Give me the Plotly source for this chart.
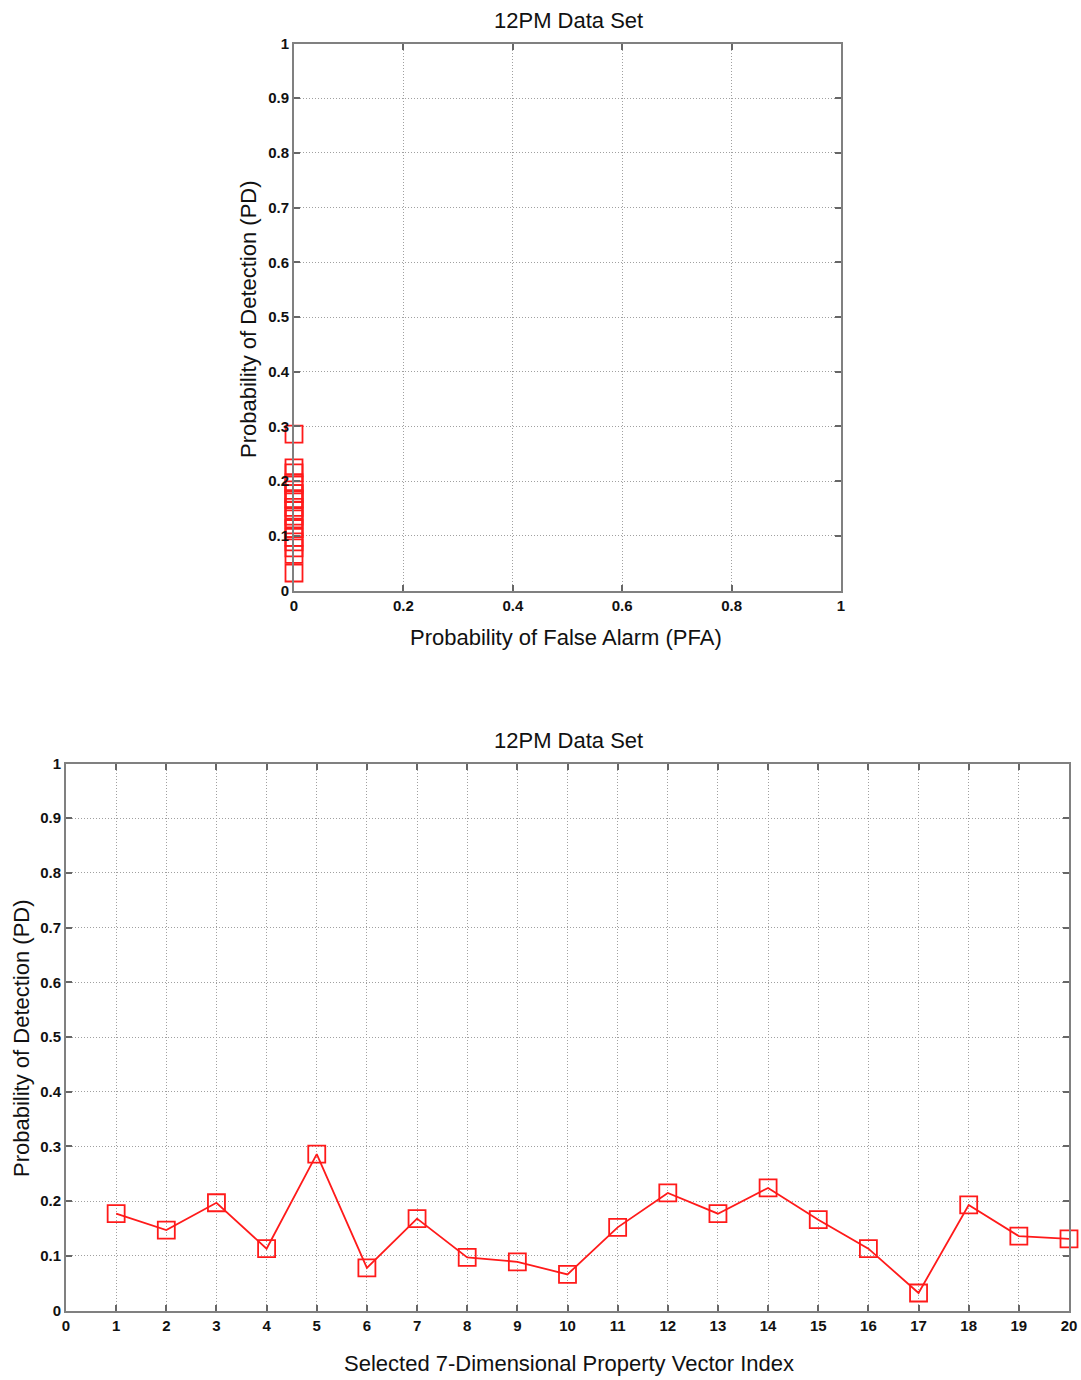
import plotly.graph_objects as go

index = list(range(1, 21))
pd_values = [0.177, 0.147, 0.197, 0.113, 0.286, 0.078, 0.168, 0.097, 0.089, 0.066,
             0.152, 0.215, 0.177, 0.224, 0.166, 0.113, 0.032, 0.193, 0.136, 0.131]
pfa_values = [0.0] * 20

title_text = "12PM Data Set"
ylab = "Probability of Detection (PD)"
xlab_top = "Probability of False Alarm (PFA)"
xlab_bot = "Selected 7-Dimensional Property Vector Index"
y_ticks = [i / 10 for i in range(11)]
y_ticktext = ["0"] + ["0.%d" % i for i in range(1, 10)] + ["1"]
x_top_ticks = [0, 0.2, 0.4, 0.6, 0.8, 1]
x_top_ticktext = ["0", "0.2", "0.4", "0.6", "0.8", "1"]
x_bot_ticks = list(range(0, 21))

W, H = 1081, 1380
RED = "#ff1a1a"
FONT = "Liberation Sans, Arial, sans-serif"

fig = go.Figure()
mk = dict(symbol="square-open", size=17, color=RED, line=dict(width=1.8, color=RED))
fig.add_trace(go.Scatter(x=pfa_values, y=pd_values, mode="markers", marker=mk,
                         cliponaxis=False, xaxis="x", yaxis="y", showlegend=False))
fig.add_trace(go.Scatter(x=index, y=pd_values, mode="lines+markers",
                         line=dict(color=RED, width=1.8), marker=mk,
                         cliponaxis=False, xaxis="x2", yaxis="y2", showlegend=False))

def ax(**kw):
    d = dict(showline=True, linecolor="#808080", linewidth=2, mirror="ticks",
             ticks="inside", ticklen=6, tickcolor="#666", tickwidth=1.5,
             showgrid=True, gridcolor="#a0a0a0", griddash="1px,2px", gridwidth=1,
             zeroline=False, automargin=False,
             tickfont=dict(family=FONT, size=15, color="#111", weight="bold"))
    d.update(kw)
    return d

def px(x):
    return x / W

def py(y):
    return 1 - y / H

fig.update_layout(
    template="none",
    width=W, height=H, margin=dict(l=0, r=0, t=0, b=0, pad=0, autoexpand=False),
    paper_bgcolor="white", plot_bgcolor="white",
    xaxis=ax(domain=[px(294), px(841)], range=[0, 1], tickvals=x_top_ticks,
             ticktext=x_top_ticktext, anchor="y"),
    yaxis=ax(domain=[py(590.5), py(43.5)], range=[0, 1], tickvals=y_ticks,
             ticktext=y_ticktext, anchor="x"),
    xaxis2=ax(domain=[px(66), px(1069)], range=[0, 20], tickvals=x_bot_ticks, anchor="y2"),
    yaxis2=ax(domain=[py(1310.5), py(763.5)], range=[0, 1], tickvals=y_ticks,
              ticktext=y_ticktext, anchor="x2"),
)

tf = dict(family=FONT, size=22, color="#111")
base = dict(showarrow=False, xref="paper", yref="paper", font=tf, xanchor="center", yanchor="middle")
ann = [
    dict(x=px(568), y=py(20.5), text=title_text, **base),
    dict(x=px(568), y=py(740), text=title_text, **base),
    dict(x=px(566), y=py(638), text=xlab_top, **base),
    dict(x=px(569), y=py(1363), text=xlab_bot, **base),
    dict(x=px(249), y=py(319), text=ylab, textangle=-90, **base),
    dict(x=px(21), y=py(1038), text=ylab, textangle=-90, **base),
]
fig.update_layout(annotations=ann)

fig.write_html("out.html")
